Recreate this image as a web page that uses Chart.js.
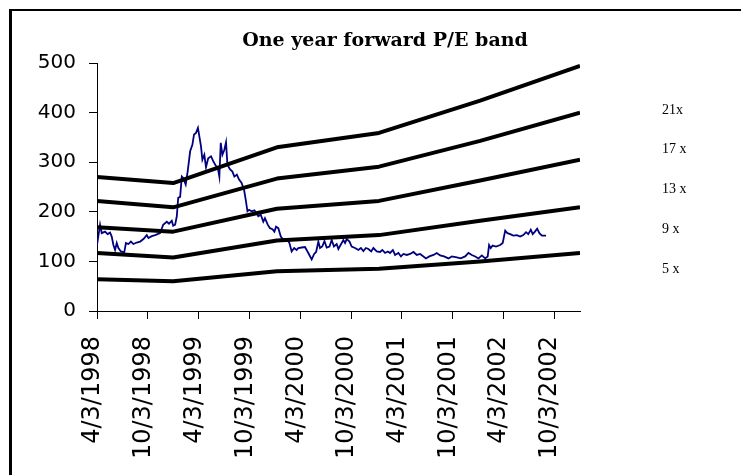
<!DOCTYPE html>
<html>
<head>
<meta charset="utf-8">
<script src="https://cdn.jsdelivr.net/npm/chart.js@4/dist/chart.umd.min.js"></script>
<style>
  html, body { margin: 0; padding: 0; background: #fff; }
  #wrap { width: 741px; height: 475px; }
</style>
</head>
<body>
<div id="wrap"><canvas id="c" width="741" height="475"></canvas></div>
<script>
// ---- Data (x values are days since 4/3/1998) ----
const chartTitle = 'One year forward P/E band';

const tickDays   = [0, 183, 365, 548, 731, 914, 1096, 1279, 1461, 1644];
const tickLabels = ['4/3/1998', '10/3/1998', '4/3/1999', '10/3/1999', '4/3/2000',
                    '10/3/2000', '4/3/2001', '10/3/2001', '4/3/2002', '10/3/2002'];

const bandDays = [0, 274, 647, 1014, 1378, 1737];
const band5x   = [64, 60, 80, 85, 100, 117];
const band9x   = [117, 108, 142, 153, 182, 209];
const band13x  = [169, 160, 206, 222, 263, 305];
const band17x  = [222, 209, 267, 291, 343, 400];
const band21x  = [270, 258, 330, 359, 424, 494];

const bandLabelValues = [405, 325, 245, 165, 85];
const bandLabels      = ['21x', '17 x', '13 x', '9 x', '5 x'];

const priceDays = [
  0, 11, 17, 29, 38, 47, 53, 59, 65, 71, 77, 86, 98, 104, 113, 122, 131, 143, 155, 167,
  179, 185, 197, 209, 227, 238, 251, 259, 269, 274, 281, 287, 292, 299, 305, 310, 319, 326, 335, 343,
  349, 356, 363, 374, 379, 386, 392, 400, 410, 418, 427, 434, 440, 445, 451, 458, 464, 469, 478, 487,
  494, 503, 511, 520, 529, 535, 541, 547, 556, 566, 574, 580, 589, 598, 604, 614, 622, 631, 638, 644,
  652, 661, 668, 676, 685, 692, 700, 709, 718, 724, 736, 748, 760, 772, 781, 788, 796, 802, 810, 818,
  826, 836, 844, 852, 862, 868, 878, 886, 892, 898, 908, 916, 928, 940, 949, 958, 967, 976, 986, 994,
  1006, 1018, 1026, 1036, 1046, 1054, 1064, 1072, 1084, 1093, 1102, 1114, 1126, 1138, 1150, 1162, 1174, 1183, 1195, 1210,
  1222, 1234, 1248, 1264, 1276, 1294, 1308, 1324, 1336, 1348, 1360, 1372, 1384, 1396, 1405, 1410, 1416, 1423, 1435, 1450,
  1459, 1468, 1476, 1486, 1497, 1510, 1522, 1533, 1543, 1551, 1560, 1567, 1575, 1583, 1591, 1600, 1615
];
const priceValues = [
  133, 174, 157, 160, 155, 158, 150, 133, 123, 137, 127, 120, 118, 137, 135, 140, 135, 138, 140, 145,
  153, 147, 151, 153, 157, 174, 180, 176, 182, 172, 174, 191, 228, 230, 271, 268, 255, 281, 322, 335,
  356, 359, 369, 332, 305, 315, 290, 308, 312, 302, 293, 290, 271, 339, 315, 325, 340, 295, 286, 281,
  271, 275, 265, 258, 244, 224, 201, 204, 201, 203, 197, 191, 194, 180, 187, 174, 167, 165, 160, 170,
  167, 150, 145, 145, 143, 137, 120, 127, 123, 127, 128, 129, 117, 104, 115, 119, 140, 127, 130, 141,
  128, 130, 143, 130, 135, 125, 135, 143, 137, 145, 140, 130, 127, 123, 127, 121, 127, 125, 120, 127,
  120, 119, 123, 117, 120, 117, 123, 113, 117, 110, 115, 113, 115, 119, 113, 115, 110, 106, 110, 113,
  117, 112, 110, 106, 110, 108, 106, 110, 117, 113, 110, 106, 112, 106, 110, 133, 127, 132, 130, 133,
  137, 162, 157, 155, 152, 153, 150, 153, 159, 155, 164, 155, 160, 166, 157, 152, 152
];

// ---- Build datasets ----
const toXY = (xs, ys) => xs.map((x, i) => ({ x: x, y: ys[i] }));
const bandStyle = { borderColor: '#000', borderWidth: 4, pointRadius: 0, tension: 0,
                    fill: false, borderJoinStyle: 'round', borderCapStyle: 'butt', order: 1 };

const frame = {
  id: 'frame',
  afterDraw(chart) {
    const ctx = chart.ctx;
    ctx.save();
    ctx.fillStyle = '#000';
    ctx.fillRect(9, 9, 732, 2);
    ctx.fillRect(9, 9, 3, 466);
    ctx.restore();
  }
};

Chart.defaults.color = '#000';

new Chart(document.getElementById('c'), {
  type: 'line',
  data: {
    datasets: [
      Object.assign({ label: '21x', data: toXY(bandDays, band21x) }, bandStyle),
      Object.assign({ label: '17x', data: toXY(bandDays, band17x) }, bandStyle),
      Object.assign({ label: '13x', data: toXY(bandDays, band13x) }, bandStyle),
      Object.assign({ label: '9x',  data: toXY(bandDays, band9x)  }, bandStyle),
      Object.assign({ label: '5x',  data: toXY(bandDays, band5x)  }, bandStyle),
      { label: 'Price', data: toXY(priceDays, priceValues), borderColor: '#000080',
        borderWidth: 1.8, pointRadius: 0, tension: 0, fill: false, order: 2 }
    ]
  },
  options: {
    responsive: false,
    animation: false,
    devicePixelRatio: 1,
    layout: { autoPadding: false, padding: { left: 38, right: 9, top: 0, bottom: 0 } },
    plugins: {
      legend: { display: false },
      tooltip: { enabled: false },
      title: {
        display: true,
        text: chartTitle,
        color: '#000',
        font: { family: 'DejaVu Serif', size: 19, weight: 'bold', lineHeight: 1.2 },
        padding: { top: 30, bottom: 10.2 }
      }
    },
    scales: {
      x: {
        type: 'linear',
        min: 0,
        max: 1737,
        afterBuildTicks(scale) { scale.ticks = tickDays.map(v => ({ value: v })); },
        afterFit(scale) { scale.height = 164; scale.paddingLeft = 0; scale.paddingRight = 0; },
        grid: { display: true, drawOnChartArea: false, drawTicks: true, tickLength: 8, color: '#000' },
        border: { display: true, color: '#000', width: 1 },
        ticks: {
          autoSkip: false,
          minRotation: 90,
          maxRotation: 90,
          padding: 17,
          labelOffset: -4,
          font: { family: 'DejaVu Sans', size: 24 },
          color: '#000',
          callback: (v) => { const i = tickDays.indexOf(v); return i >= 0 ? tickLabels[i] : ''; }
        }
      },
      y: {
        type: 'linear',
        position: 'left',
        min: 0,
        max: 500,
        afterFit(scale) { scale.width = 59; scale.paddingTop = 0; scale.paddingBottom = 0; },
        grid: { display: true, drawOnChartArea: false, drawTicks: true, tickLength: 8, color: '#000' },
        border: { display: true, color: '#000', width: 1 },
        ticks: { stepSize: 100, padding: 13, font: { family: 'DejaVu Sans', size: 20 }, color: '#000' }
      },
      y2: {
        type: 'linear',
        position: 'right',
        min: 0,
        max: 500,
        afterBuildTicks(scale) { scale.ticks = bandLabelValues.map(v => ({ value: v })); },
        afterFit(scale) { scale.width = 152; scale.paddingTop = 0; scale.paddingBottom = 0; },
        grid: { display: false, drawOnChartArea: false, drawTicks: false },
        border: { display: false },
        ticks: {
          padding: 82,
          font: { family: 'Liberation Serif', size: 14 },
          color: '#000',
          callback: (v) => { const i = bandLabelValues.indexOf(v); return i >= 0 ? bandLabels[i] : ''; }
        }
      }
    }
  },
  plugins: [frame]
});
</script>
</body>
</html>
